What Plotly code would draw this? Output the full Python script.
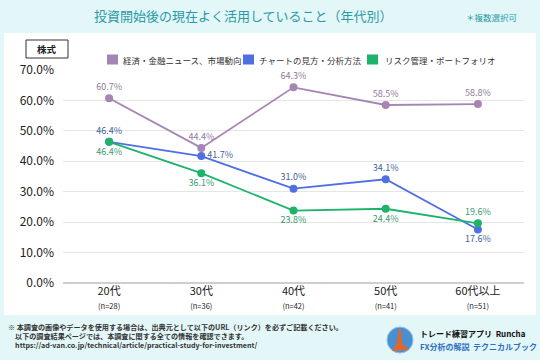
import plotly.graph_objects as go

categories = ["20代", "30代", "40代", "50代", "60代以上"]
sample_sizes = ["n=28", "n=36", "n=42", "n=41", "n=51"]
series_names = ["経済・金融ニュース、市場動向", "チャートの見方・分析方法", "リスク管理・ポートフォリオ"]
news_values = [60.7, 44.4, 64.3, 58.5, 58.8]
chart_values = [46.4, 41.7, 31.0, 34.1, 17.6]
risk_values = [46.4, 36.1, 23.8, 24.4, 19.6]
y_ticks = [0, 10, 20, 30, 40, 50, 60, 70]

FONT = "Noto Sans CJK JP"
colors = ["#a585b3", "#4f6fe3", "#1db36a"]
label_colors = ["#8f7a98", "#3f5f9a", "#3a9a70"]
positions = [
    ["top center"] * 5,
    ["top center", "middle right", "top center", "top center", "bottom center"],
    ["bottom center", "bottom center", "bottom center", "bottom center", "top center"],
]

# plot area in pixels
L, R, T, B = 63, 524, 70, 283
W, H = 540, 360


def px(x):
    return (x - L) / (R - L)


def py(y):
    return (B - y) / (B - T)


tick_text = [f"{c}<br><span style='font-size:7.5px'>({n})</span>" for c, n in zip(categories, sample_sizes)]

fig = go.Figure()
for name, vals, col, lcol, pos in zip(series_names, [news_values, chart_values, risk_values], colors, label_colors, positions):
    fig.add_trace(go.Scatter(
        x=categories, y=vals, mode="lines+markers+text", name=name,
        line=dict(color=col, width=1.8), marker=dict(color=col, size=8),
        text=[f"{v:.1f}%" for v in vals], textposition=pos,
        textfont=dict(color=lcol, size=9, family=FONT), showlegend=False,
        cliponaxis=False, hoverinfo="skip",
    ))

shapes = [
    dict(type="rect", xref="paper", yref="paper", x0=px(4), x1=px(536), y0=py(315), y1=py(33),
         fillcolor="white", line=dict(width=0), layer="below"),
    dict(type="rect", xref="paper", yref="paper", x0=px(26), x1=px(68), y0=py(58), y1=py(40),
         fillcolor="white", line=dict(color="#333", width=1)),
    dict(type="circle", xref="paper", yref="paper", x0=px(387), x1=px(413), y0=py(353), y1=py(327),
         fillcolor="#4a8fd0", line=dict(color="#8cc0e8", width=1)),
    dict(type="path", xref="paper", yref="paper",
         path=f"M {px(399)} {py(328)} L {px(401)} {py(330)} L {px(402)} {py(343)} L {px(409)} {py(350)} "
              f"L {px(392)} {py(351)} L {px(397)} {py(343)} Z",
         fillcolor="#e2652b", line=dict(width=0)),
]

legend_boxes = [(107, 121), (243, 257), (367, 383)]
annotations = []
for (sx, tx), name, col in zip(legend_boxes, series_names, colors):
    shapes.append(dict(type="rect", xref="paper", yref="paper", x0=px(sx), x1=px(sx + 11),
                       y0=py(64.5), y1=py(54.5), fillcolor=col, line=dict(width=0)))
    annotations.append(dict(text=name, xref="paper", yref="paper", x=px(tx), y=py(59.5),
                            xanchor="left", yanchor="middle", showarrow=False,
                            font=dict(size=8.5, color="#333", family=FONT)))

annotations += [
    dict(text="投資開始後の現在よく活用していること（年代別）", xref="paper", yref="paper",
         x=px(243), y=py(16), xanchor="center", yanchor="middle", showarrow=False,
         font=dict(size=13, color="#2a9aa6", family=FONT)),
    dict(text="＊複数選択可", xref="paper", yref="paper", x=px(520), y=py(17),
         xanchor="right", yanchor="middle", showarrow=False,
         font=dict(size=8.5, color="#2a9aa6", family=FONT)),
    dict(text="<b>株式</b>", xref="paper", yref="paper", x=px(47), y=py(49),
         xanchor="center", yanchor="middle", showarrow=False,
         font=dict(size=9.5, color="#222", family=FONT)),
    dict(text="<b>※ 本調査の画像やデータを使用する場合は、出典元として以下のURL（リンク）を必ずご記載ください。</b><br>"
              "<b>　以下の調査結果ページでは、本調査に関する全ての情報を確認できます。</b><br>"
              "<b>　https://ad-van.co.jp/technical/article/practical-study-for-investment/</b>",
         xref="paper", yref="paper", x=px(6), y=py(320), xanchor="left", yanchor="top",
         align="left", showarrow=False, font=dict(size=7.1, color="#333", family=FONT)),
    dict(text="<b>トレード練習アプリ  Runcha</b>", xref="paper", yref="paper",
         x=px(418), y=py(333), xanchor="left", yanchor="middle", showarrow=False,
         font=dict(size=8, color="#111", family=FONT)),
    dict(text="<b>FX分析の解説  テクニカルブック</b>", xref="paper", yref="paper",
         x=px(418), y=py(346), xanchor="left", yanchor="middle", showarrow=False,
         font=dict(size=8, color="#2f6fc4", family=FONT)),
]

fig.update_layout(
    width=W, height=H,
    margin=dict(l=L, r=W - R, t=T, b=H - B, autoexpand=False),
    paper_bgcolor="#e3f6f8", plot_bgcolor="white",
    font=dict(family=FONT, color="#222"),
    showlegend=False, hovermode=False,
    xaxis=dict(tickmode="array", tickvals=categories, ticktext=tick_text,
               tickfont=dict(size=11, color="#222", family=FONT), showgrid=False,
               range=[-0.5, 4.5], ticks="", fixedrange=True, automargin=False),
    yaxis=dict(range=[0, 70], tickvals=y_ticks, ticktext=[f"{t:.1f}%" for t in y_ticks],
               tickfont=dict(size=12, color="#222", family=FONT), gridcolor="#e6e6e6",
               gridwidth=1, zeroline=True, zerolinecolor="#cfcfcf", zerolinewidth=2,
               ticks="", ticklabelstandoff=8, automargin=False, fixedrange=True),
    shapes=shapes,
    annotations=annotations,
)

fig.write_html("out.html", config={"displayModeBar": False},
               post_script="document.body.style.margin='0px';")
